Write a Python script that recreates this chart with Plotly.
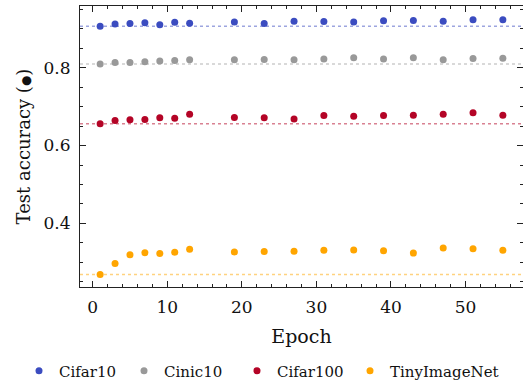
import plotly.graph_objects as go

epochs = [1, 3, 5, 7, 9, 11, 13, 19, 23, 27, 31, 35, 39, 43, 47, 51, 55]
cifar10 = [0.906, 0.912, 0.913, 0.915, 0.910, 0.916, 0.914, 0.917, 0.913, 0.919, 0.918, 0.917, 0.920, 0.921, 0.919, 0.923, 0.923]
cinic10 = [0.809, 0.813, 0.813, 0.815, 0.817, 0.818, 0.820, 0.820, 0.821, 0.820, 0.822, 0.825, 0.822, 0.825, 0.820, 0.823, 0.824]
cifar100 = [0.656, 0.664, 0.666, 0.667, 0.671, 0.670, 0.680, 0.672, 0.671, 0.668, 0.677, 0.675, 0.677, 0.678, 0.680, 0.684, 0.678]
tiny = [0.269, 0.297, 0.320, 0.325, 0.323, 0.326, 0.334, 0.327, 0.328, 0.329, 0.331, 0.332, 0.330, 0.324, 0.337, 0.335, 0.331]

names = ["Cifar10", "Cinic10", "Cifar100", "TinyImageNet"]
series = [cifar10, cinic10, cifar100, tiny]
colors = ["#3b4cc0", "#999999", "#b40426", "#ffa500"]
line_colors = ["rgba(59,76,192,0.5)", "rgba(153,153,153,0.5)", "rgba(180,4,38,0.5)", "rgba(255,165,0,0.5)"]
legend_ids = ["legend", "legend2", "legend3", "legend4"]
legend_left_px = [19, 124, 237, 350]

FONT = "DejaVu Serif"
W, H = 523, 381

fig = go.Figure()
for name, vals, c, lc, lid in zip(names, series, colors, line_colors, legend_ids):
    fig.add_hline(y=vals[0], line=dict(color=lc, width=1.6, dash="dot"), layer="below")
    fig.add_trace(go.Scatter(x=epochs, y=vals, mode="markers", name=name, legend=lid,
                             marker=dict(color=c, size=7, line=dict(width=0))))

axis_common = dict(
    showline=True, linecolor="#222", linewidth=1.2, mirror="allticks",
    ticks="inside", tickcolor="#222", tickwidth=1, showgrid=False, zeroline=False,
    tickfont=dict(family=FONT, size=17, color="#111"),
)

fig.update_xaxes(range=[-1.7, 57.7], dtick=10, tick0=0, ticklen=6,
                 minor=dict(dtick=2, tick0=0, ticks="inside", ticklen=3, tickcolor="#222"),
                 title=dict(text="Epoch", font=dict(family=FONT, size=19, color="#111"), standoff=14),
                 ticklabelstandoff=4, **axis_common)
fig.update_yaxes(range=[0.237, 0.958], dtick=0.2, tick0=0, ticklen=6, tickformat=".1f",
                 minor=dict(dtick=0.05, tick0=0, ticks="inside", ticklen=3, tickcolor="#222"),
                 title=dict(text="Test accuracy (<span style='font-size:12px'>●</span>)",
                            font=dict(family=FONT, size=18, color="#111"), standoff=8),
                 ticklabelstandoff=5, **axis_common)

legend_layout = {}
for lid, lx in zip(legend_ids, legend_left_px):
    legend_layout[lid] = dict(
        orientation="h", xref="container", yref="container",
        x=lx / W, xanchor="left", y=1 - 371 / H, yanchor="middle",
        font=dict(family=FONT, size=15, color="#111"), itemwidth=30,
        bgcolor="rgba(0,0,0,0)",
    )

fig.update_layout(
    width=W, height=H,
    font=dict(family=FONT, color="#111"),
    margin=dict(l=80, r=0, t=6, b=94, autoexpand=False),
    plot_bgcolor="white", paper_bgcolor="white",
    showlegend=True,
    **legend_layout,
)

fig.write_html("out.html")
